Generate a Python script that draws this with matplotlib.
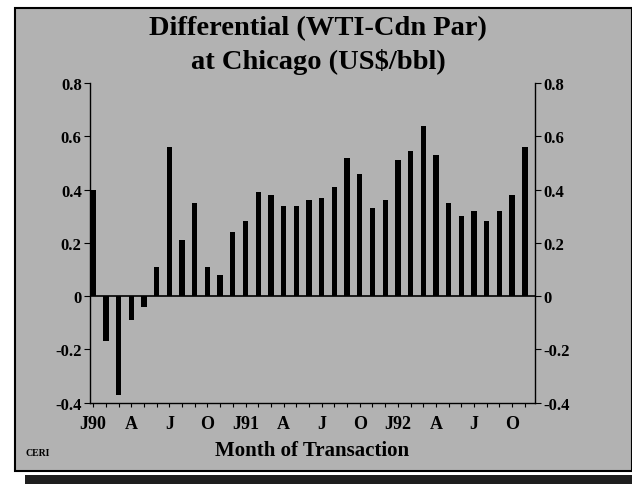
import matplotlib
matplotlib.use('Agg')
import matplotlib.pyplot as plt
from matplotlib.patches import Rectangle

# monthly differential, Jan 1990 - Nov 1992 (US$/bbl)
months = ['J90', 'F', 'M', 'A', 'M', 'J', 'J', 'A', 'S', 'O', 'N', 'D',
          'J91', 'F', 'M', 'A', 'M', 'J', 'J', 'A', 'S', 'O', 'N', 'D',
          'J92', 'F', 'M', 'A', 'M', 'J', 'J', 'A', 'S', 'O', 'N']
diff = [0.40, -0.17, -0.37, -0.09, -0.04, 0.11, 0.56, 0.21, 0.35, 0.11, 0.08, 0.24,
        0.28, 0.39, 0.38, 0.34, 0.34, 0.36, 0.37, 0.41, 0.52, 0.46, 0.33, 0.36,
        0.51, 0.545, 0.64, 0.53, 0.35, 0.30, 0.32, 0.28, 0.32, 0.38, 0.56]
y_ticks = [-0.4, -0.2, 0, 0.2, 0.4, 0.6, 0.8]
y_labels = ['-0.4', '-0.2', '0', '0.2', '0.4', '0.6', '0.8']

plt.rcParams['font.family'] = ['Liberation Serif', 'DejaVu Serif']
plt.rcParams['font.weight'] = 'bold'

W, H = 632, 485
fig = plt.figure(figsize=(W / 100, H / 100), dpi=100)
fig.patch.set_facecolor('white')

# gray halftone panel with border and shadow
panel = Rectangle((15 / W, 1 - 472 / H), (W - 15) / W, (472 - 9) / H,
                  transform=fig.transFigure, facecolor='#b2b2b2',
                  edgecolor='black', linewidth=1.5, zorder=-10)
fig.patches.append(panel)
shadow = Rectangle((25 / W, 0), (W - 25) / W, 9 / H,
                   transform=fig.transFigure, facecolor='#1e1e1e',
                   edgecolor='none', zorder=-10)
fig.patches.append(shadow)

ax = fig.add_axes([90 / W, 1 - 403.6 / H, 445 / W, 319.6 / H])
ax.set_facecolor('none')
ax.set_zorder(5)

x = list(range(len(diff)))
ax.bar(x, diff, width=0.42, color='black', zorder=3)
ax.axhline(0, color='black', linewidth=1.2, zorder=2)

ax.set_xlim(-0.25, 34.8)
ax.set_ylim(-0.4, 0.8)
ax.set_yticks(y_ticks)
ax.set_yticklabels(y_labels)
ax.spines['top'].set_visible(False)
for s in ['left', 'right', 'bottom']:
    ax.spines[s].set_linewidth(1.0)

quarter = [i for i in x if i % 3 == 0]
ax.set_xticks(x, minor=True)
ax.set_xticks(quarter)
ax.set_xticklabels([months[i] for i in quarter])
ax.tick_params(axis='x', which='both', direction='out', length=3, width=0.8)
ax.tick_params(axis='x', labelsize=13, pad=6)
ax.tick_params(axis='y', right=True, labelright=True, direction='out',
               length=4, width=0.8, labelsize=12, pad=2)

ax.set_xlabel('Month of Transaction', fontsize=15, fontweight='bold', labelpad=6)

fig.text(0.503, 1 - 29 / H, 'Differential (WTI-Cdn Par)', ha='center', va='center',
         fontsize=20.5, fontweight='bold')
fig.text(0.503, 1 - 62 / H, 'at Chicago (US\\$/bbl)', ha='center', va='center',
         fontsize=20.5, fontweight='bold')
fig.text(25 / W, 1 - 454 / H, 'CERI', ha='left', va='center', fontsize=7,
         fontweight='bold')

fig.savefig('out.png', dpi=100)
